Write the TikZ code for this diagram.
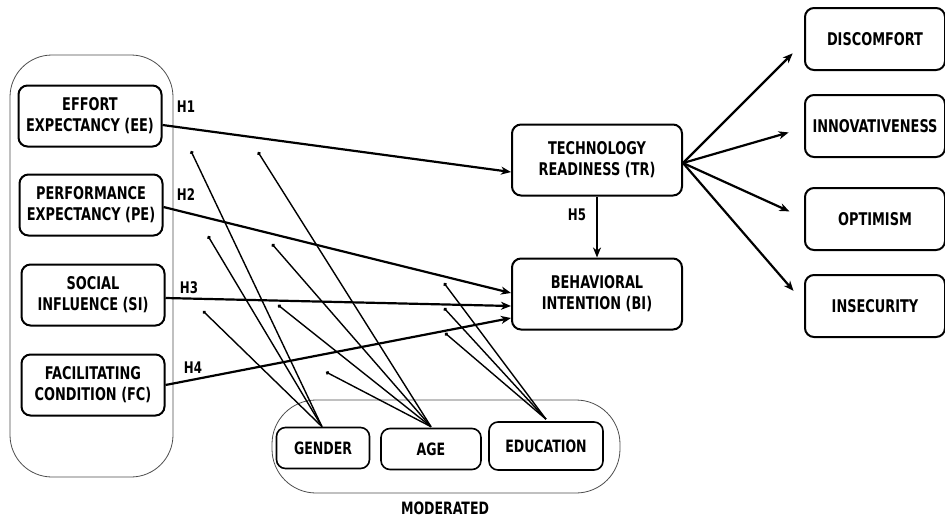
\documentclass[tikz,border=0pt]{standalone}
\usepackage{fontspec}
\setmainfont{DejaVu Sans Condensed}[FakeStretch=0.82]
\usetikzlibrary{arrows.meta}
\begin{document}
\begin{tikzpicture}[x=1pt,y=-1pt,
  font=\bfseries\fontsize{17.5}{21}\selectfont,
  box/.style={draw, line width=2pt, rounded corners=9pt, align=center, inner sep=0pt},
  lbox/.style={box, minimum width=143pt, minimum height=61pt},
  cbox/.style={box, minimum width=170pt, minimum height=71pt},
  rbox/.style={box, minimum width=140pt, minimum height=62pt},
  mbox/.style={box, line width=1.6pt, minimum height=41pt, font=\bfseries\fontsize{17}{20}\selectfont},
  hyp/.style={-{Stealth[length=10pt,width=8pt,inset=3pt]}, line width=2.2pt},
  modl/.style={-{Circle[length=3.5pt]}, line width=1.4pt},
  group/.style={draw=black!70, line width=0.8pt},
  hl/.style={inner sep=0pt, font=\bfseries\fontsize{16}{18}\selectfont}
]
\useasboundingbox (0,0) rectangle (945,517);

% containers
\draw[group, rounded corners=42pt] (10,55) rectangle (173,477);
\draw[group, rounded corners=44pt] (272,400) rectangle (620,493);
\node[inner sep=0pt, font=\bfseries\fontsize{17}{20}\selectfont] (modlbl) at (445,508) {MODERATED};

% left constructs
\node[lbox] (ee) at (90,116) {EFFORT\\EXPECTANCY (EE)};
\node[lbox] (pe) at (91,205) {PERFORMANCE\\EXPECTANCY (PE)};
\node[lbox] (si) at (93,295) {SOCIAL\\INFLUENCE (SI)};
\node[lbox] (fc) at (93,385) {FACILITATING\\CONDITION (FC)};

% center
\node[cbox] (tr) at (597,160) {TECHNOLOGY\\READINESS (TR)};
\node[cbox] (bi) at (597,294) {BEHAVIORAL\\INTENTION (BI)};

% right
\node[rbox] (dis) at (875,39) {DISCOMFORT};
\node[rbox] (inn) at (875,126) {INNOVATIVENESS};
\node[rbox] (opt) at (875,219) {OPTIMISM};
\node[rbox] (ins) at (875,306) {INSECURITY};

% moderators
\node[mbox, minimum width=93pt] (gen) at (323,448) {GENDER};
\node[mbox, minimum width=100pt] (age) at (431,449) {AGE};
\node[mbox, minimum width=114pt, minimum height=48pt] (edu) at (546,446) {EDUCATION};

% hypothesis labels
\node[hl] (h1) at (186,107) {H1};
\node[hl] (h2) at (186,195) {H2};
\node[hl] (h3) at (189,288) {H3};
\node[hl] (h4) at (193,368) {H4};
\node[hl] (h5) at (577,215) {H5};

% main paths
\draw[hyp] ([yshift=-9pt]ee.east) -- ([yshift=-12pt]tr.west);
\draw[hyp] ([yshift=-2pt]pe.east) -- ([yshift=1pt]bi.west);
\draw[hyp] ([yshift=-3pt]si.east) -- ([yshift=-12pt]bi.west);
\draw[hyp] (fc.east) -- ([yshift=-24pt]bi.west);
\draw[hyp] (tr.south) -- (bi.north);

\draw[hyp, shorten >=16pt] ([yshift=-3pt]tr.east) -- ([yshift=-3pt]dis.west);
\draw[hyp, shorten >=16pt] ([yshift=-3pt]tr.east) -- ([yshift=-2pt]inn.west);
\draw[hyp, shorten >=16pt] ([yshift=-3pt]tr.east) -- ([yshift=1pt]opt.west);
\draw[hyp, shorten >=16pt] ([yshift=-3pt]tr.east) -- ([yshift=3pt]ins.west);

% moderation endpoints
\coordinate (g1) at (191,151);
\coordinate (g2) at (208,236);
\coordinate (g3) at (203,311);
\coordinate (a1) at (258,152);
\coordinate (a2) at (272,244);
\coordinate (a3) at (278,305);
\coordinate (a4) at (326,372);
\coordinate (e1) at (444,283);
\coordinate (e2) at (444,308);
\coordinate (e3) at (445,333);

\foreach \t in {g1,g2,g3} \draw[modl] ([xshift=-1pt]gen.north) -- (\t);
\foreach \t in {a1,a2,a3,a4} \draw[modl] ([yshift=1pt]age.north) -- (\t);
\foreach \t in {e1,e2,e3} \draw[modl] ([yshift=2pt]edu.north) -- (\t);
\end{tikzpicture}
\end{document}
